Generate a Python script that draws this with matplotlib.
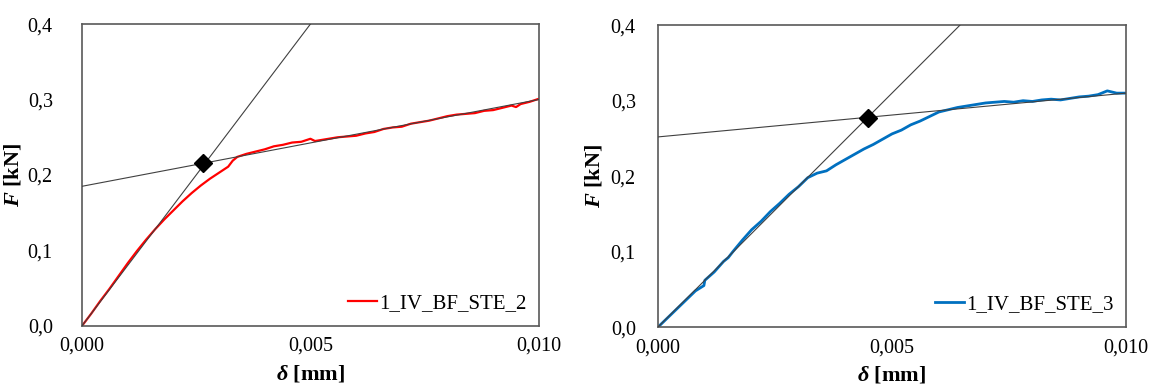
import matplotlib
matplotlib.use("Agg")
import matplotlib.pyplot as plt

plt.rcParams['font.family'] = ['Liberation Serif', 'DejaVu Serif']
plt.rcParams['mathtext.fontset'] = 'custom'
plt.rcParams['mathtext.it'] = 'Liberation Serif:italic:bold'
plt.rcParams['mathtext.rm'] = 'Liberation Serif:bold'

# specimen 1_IV_BF_STE_2 (left)
d2 = [0.0000, 0.0002, 0.0004, 0.0006, 0.0008, 0.0010, 0.0012, 0.0014, 0.0016, 0.0018,
      0.0020, 0.0022, 0.0024, 0.0026, 0.0028, 0.0030, 0.0032, 0.0033, 0.0034, 0.0036,
      0.0038, 0.0040, 0.0042, 0.0044, 0.0046, 0.0048, 0.0050, 0.0051, 0.0053, 0.0056,
      0.0058, 0.0060, 0.0062, 0.0064, 0.0066, 0.0068, 0.0070, 0.0072, 0.0074, 0.0076,
      0.0078, 0.0080, 0.0082, 0.0084, 0.0086, 0.0088, 0.0090, 0.0092, 0.0094, 0.0095,
      0.0096, 0.0098, 0.0100]
F2 = [0.000, 0.016, 0.033, 0.049, 0.066, 0.083, 0.099, 0.114, 0.128, 0.141,
      0.153, 0.165, 0.176, 0.186, 0.195, 0.203, 0.211, 0.219, 0.224, 0.228,
      0.231, 0.234, 0.238, 0.240, 0.243, 0.244, 0.248, 0.245, 0.247, 0.250,
      0.251, 0.252, 0.255, 0.257, 0.261, 0.263, 0.264, 0.268, 0.270, 0.272,
      0.275, 0.278, 0.280, 0.281, 0.282, 0.285, 0.286, 0.289, 0.292, 0.290,
      0.294, 0.297, 0.301]
tan2_d = [0.0, 0.0050]
tan2_F = [0.0, 0.400]
post2_d = [0.0, 0.0100]
post2_F = [0.185, 0.300]
yield2 = (0.00266, 0.2155)

# specimen 1_IV_BF_STE_3 (right)
d3 = [0.0000, 0.0002, 0.0004, 0.0006, 0.0008, 0.00098, 0.0010, 0.0012, 0.0014, 0.0015,
      0.0016, 0.0018, 0.0020, 0.0022, 0.0024, 0.0026, 0.0028, 0.0030, 0.0032, 0.0034,
      0.0036, 0.0038, 0.0040, 0.0042, 0.0044, 0.0046, 0.0048, 0.0050, 0.0052, 0.0054,
      0.0056, 0.0058, 0.0060, 0.0062, 0.0064, 0.0066, 0.0068, 0.0070, 0.0072, 0.0074,
      0.0076, 0.0078, 0.0080, 0.0082, 0.0084, 0.0086, 0.0088, 0.0090, 0.0092, 0.0094,
      0.0096, 0.0098, 0.0100]
F3 = [0.000, 0.012, 0.024, 0.036, 0.048, 0.055, 0.062, 0.073, 0.087, 0.092,
      0.100, 0.115, 0.129, 0.140, 0.153, 0.164, 0.176, 0.186, 0.198, 0.204,
      0.207, 0.215, 0.222, 0.229, 0.236, 0.242, 0.249, 0.256, 0.261, 0.268,
      0.273, 0.279, 0.285, 0.288, 0.291, 0.293, 0.295, 0.297, 0.298, 0.299,
      0.298, 0.300, 0.299, 0.301, 0.302, 0.301, 0.303, 0.305, 0.306, 0.308,
      0.313, 0.310, 0.310]
tan3_d = [0.0, 0.00645]
tan3_F = [0.0, 0.400]
post3_d = [0.0, 0.0100]
post3_F = [0.252, 0.310]
yield3 = (0.00449, 0.277)

xticks = [0.000, 0.005, 0.010]
xlabels = ['0,000', '0,005', '0,010']
yticks = [0.0, 0.1, 0.2, 0.3, 0.4]
ylabels = ['0,0', '0,1', '0,2', '0,3', '0,4']

fig = plt.figure(figsize=(11.51, 3.88), dpi=100)
ax1 = fig.add_axes([0.0712, 0.160, 0.397, 0.778])
ax2 = fig.add_axes([0.5717, 0.157, 0.4066, 0.778])

panels = [
    (ax1, d2, F2, tan2_d, tan2_F, post2_d, post2_F, yield2, '#FF0000', '1_IV_BF_STE_2', 1.6, 21, -0.128),
    (ax2, d3, F3, tan3_d, tan3_F, post3_d, post3_F, yield3, '#0070C0', '1_IV_BF_STE_3', 2.0, 16, -0.115),
]

for ax, d, F, td, tF, pd_, pF, yp, col, lab, lw, ypad, ylx in panels:
    ax.plot(d, F, color=col, lw=lw, label=lab, zorder=2)
    ax.plot(td, tF, color='#404040', lw=0.8, zorder=3)
    ax.plot(pd_, pF, color='#404040', lw=0.8, zorder=3)
    ax.plot([yp[0]], [yp[1]], marker='D', color='black', markersize=9, zorder=4)
    ax.set_xlim(0, 0.010)
    ax.set_ylim(0, 0.4)
    ax.set_xticks(xticks)
    ax.set_xticklabels(xlabels)
    ax.set_yticks(yticks)
    ax.set_yticklabels(ylabels)
    ax.tick_params(axis='both', length=0, labelsize=14.5)
    ax.tick_params(axis='x', pad=8)
    ax.tick_params(axis='y', pad=ypad)
    for s in ax.spines.values():
        s.set_color('#595959')
        s.set_linewidth(1.2)
    ax.set_xlabel(r'$\delta$ [mm]', fontsize=16, fontweight='bold')
    ax.set_ylabel(r'$F$ [kN]', fontsize=16, fontweight='bold')
    ax.xaxis.set_label_coords(0.5, -0.125)
    ax.yaxis.set_label_coords(ylx, 0.5)
    ax.legend(loc='lower right', frameon=False, fontsize=15, handlelength=1.4,
              handletextpad=0.1, borderaxespad=0.2)

fig.savefig('out.png', dpi=100)
